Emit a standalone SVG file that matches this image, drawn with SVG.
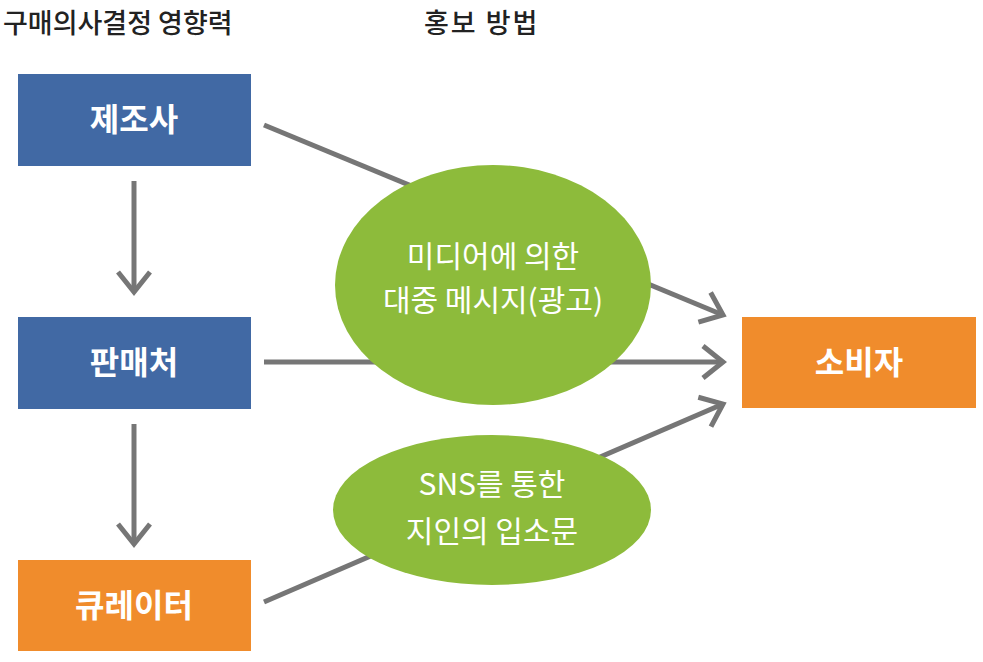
<svg xmlns="http://www.w3.org/2000/svg" width="983" height="662" viewBox="0 0 983 662">
<defs>
<style>
.hdr{font-family:"Noto Sans CJK KR","Liberation Sans",sans-serif;font-size:27px;font-weight:500;fill:#222}
.box{font-family:"Noto Sans CJK KR","Liberation Sans",sans-serif;font-size:32px;font-weight:bold;fill:#fff;text-anchor:middle}
.ell{font-family:"Noto Sans CJK KR","Liberation Sans",sans-serif;font-size:30px;fill:#fff;text-anchor:middle}
.con{stroke:#767676;stroke-width:5;fill:none}
.blue{fill:#4169A4}
.orange{fill:#F08C2C}
.green{fill:#8DBB3B}
</style>
<marker id="chev" markerUnits="userSpaceOnUse" orient="auto" viewBox="-26 -22 32 44" refX="0" refY="0" markerWidth="32" markerHeight="44">
<path d="M-20,-16 L0,0 L-20,16" stroke="#767676" stroke-width="5" fill="none"/>
</marker>
</defs>
<rect width="983" height="662" fill="#fff"/>
<text class="hdr" x="3" y="33">구매의사결정 영향력</text>
<text class="hdr" x="424" y="33" style="letter-spacing:2px">홍보 방법</text>
<g id="connectors">
<line class="con" x1="134" y1="181" x2="134" y2="292" marker-end="url(#chev)"/>
<line class="con" x1="134" y1="424" x2="134" y2="544" marker-end="url(#chev)"/>
<line class="con" x1="264" y1="125" x2="723" y2="315" marker-end="url(#chev)"/>
<line class="con" x1="264" y1="362" x2="723" y2="362" marker-end="url(#chev)"/>
<line class="con" x1="264" y1="602" x2="723" y2="404" marker-end="url(#chev)"/>
</g>
<g id="manufacturer">
<rect class="blue" x="18" y="74" width="233" height="92"/>
<text class="box" x="134" y="131">제조사</text>
</g>
<g id="seller">
<rect class="blue" x="18" y="317" width="233" height="92"/>
<text class="box" x="134" y="374">판매처</text>
</g>
<g id="curator">
<rect class="orange" x="18" y="560" width="233" height="91"/>
<text class="box" x="134" y="617">큐레이터</text>
</g>
<g id="consumer">
<rect class="orange" x="742" y="317" width="234" height="91"/>
<text class="box" x="859" y="374">소비자</text>
</g>
<g id="media">
<ellipse class="green" cx="493" cy="285" rx="158" ry="120"/>
<text class="ell" x="493" y="267">미디어에 의한</text>
<text class="ell" x="493" y="311">대중 메시지(광고)</text>
</g>
<g id="sns">
<ellipse class="green" cx="492" cy="510" rx="159" ry="75"/>
<text class="ell" x="492" y="495">SNS를 통한</text>
<text class="ell" x="492" y="542">지인의 입소문</text>
</g>
</svg>
